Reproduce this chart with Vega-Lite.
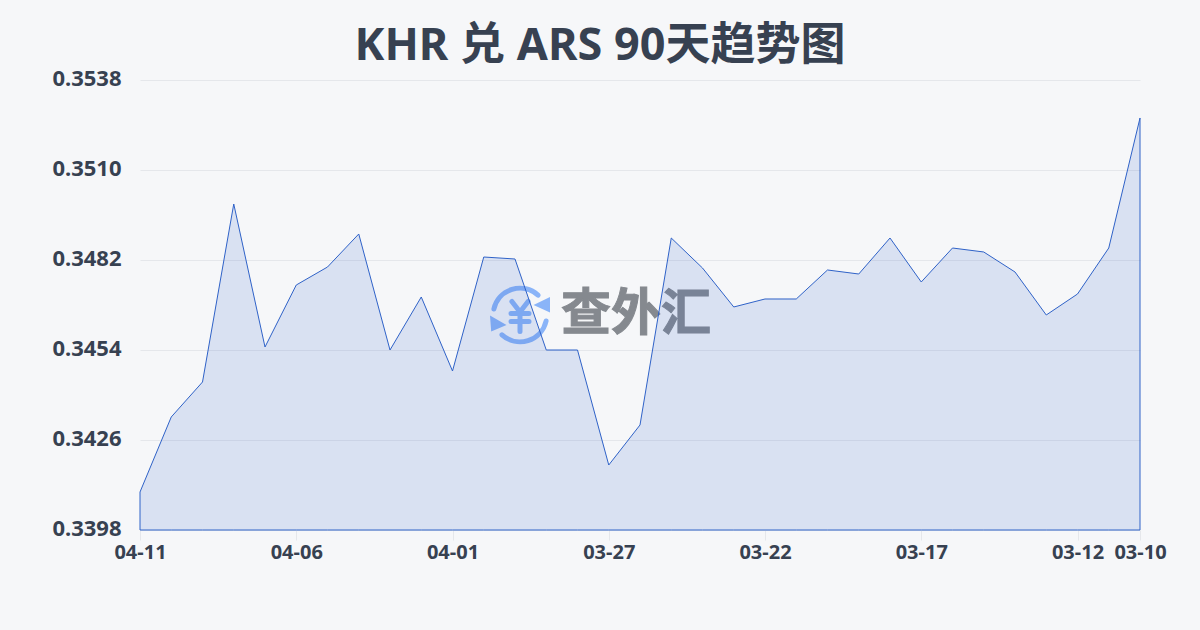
{"$schema":"https://vega.github.io/schema/vega-lite/v6.json","width":1000,"height":450,"autosize":"none","padding":{"left":140,"top":80,"right":60,"bottom":100},"background":"#f6f7f9","config":{"view":{"stroke":null},"font":"Noto Sans"},"title":{"text":"KHR 兑 ARS 90天趋势图","font":"Noto Sans, Noto Sans CJK SC","fontSize":45,"fontWeight":"bold","color":"#374151","anchor":"middle","dx":-40,"offset":-47,"baseline":"bottom"},"datasets":{"rates":[{"date":"04-11","rate":0.340982},{"date":"04-10","rate":0.343316},{"date":"04-09","rate":0.344404},{"date":"04-08","rate":0.349942},{"date":"04-07","rate":0.345493},{"date":"04-06","rate":0.347422},{"date":"04-05","rate":0.347982},{"date":"04-04","rate":0.349009},{"date":"04-03","rate":0.3454},{"date":"04-02","rate":0.347049},{"date":"04-01","rate":0.344747},{"date":"03-31","rate":0.348293},{"date":"03-30","rate":0.348231},{"date":"03-29","rate":0.3454},{"date":"03-28","rate":0.3454},{"date":"03-27","rate":0.341822},{"date":"03-26","rate":0.343067},{"date":"03-25","rate":0.348884},{"date":"03-24","rate":0.347951},{"date":"03-23","rate":0.346738},{"date":"03-22","rate":0.346987},{"date":"03-21","rate":0.346987},{"date":"03-20","rate":0.347889},{"date":"03-19","rate":0.347764},{"date":"03-18","rate":0.348884},{"date":"03-17","rate":0.347516},{"date":"03-16","rate":0.348573},{"date":"03-15","rate":0.348449},{"date":"03-14","rate":0.347827},{"date":"03-13","rate":0.346489},{"date":"03-12","rate":0.347142},{"date":"03-11","rate":0.348573},{"date":"03-10","rate":0.352618}],"logo":[{"date":"03-30","rate":0.346489}],"brand":[{"date":"03-26","rate":0.346489,"label":"查外汇"}]},"encoding":{"x":{"field":"date","type":"ordinal","title":null,"scale":{"type":"point","padding":0,"domain":["04-11","04-10","04-09","04-08","04-07","04-06","04-05","04-04","04-03","04-02","04-01","03-31","03-30","03-29","03-28","03-27","03-26","03-25","03-24","03-23","03-22","03-21","03-20","03-19","03-18","03-17","03-16","03-15","03-14","03-13","03-12","03-11","03-10"]},"axis":{"values":["04-11","04-06","04-01","03-27","03-22","03-17","03-12","03-10"],"labelAngle":0,"labelFontSize":20,"labelFontWeight":"bold","labelColor":"#374151","labelFont":"Noto Sans","labelPadding":2,"labelOverlap":false,"domain":false,"grid":false,"ticks":true,"tickColor":"#e5e7eb","tickSize":10}},"y":{"field":"rate","type":"quantitative","title":null,"scale":{"domain":[0.3398,0.3538],"zero":false,"nice":false},"axis":{"values":[0.3398,0.3426,0.3454,0.3482,0.351,0.3538],"format":".4f","labelFontSize":22,"labelFontWeight":"bold","labelColor":"#374151","labelFont":"Noto Sans","labelPadding":19,"labelOffset":-2,"domain":false,"ticks":false,"grid":true,"gridColor":"#e5e7eb","gridWidth":1}}},"layer":[{"data":{"name":"logo"},"mark":{"type":"point","filled":false,"xOffset":5,"size":3600,"stroke":"#8ab4f8","strokeWidth":5,"opacity":1,"strokeCap":"round","strokeJoin":"round","shape":"M-0.87 -0.2 A0.89 0.89 0 0 1 0.6 -0.66 M0.87 0.2 A0.89 0.89 0 0 1 -0.6 0.66 M-0.27 -0.45 L0 -0.1 L0.27 -0.45 M-0.3 -0.05 L0.3 -0.05 M-0.3 0.22 L0.3 0.22 M0 -0.1 L0 0.55"}},{"data":{"name":"logo"},"mark":{"type":"point","filled":true,"xOffset":5,"size":3600,"fill":"#8ab4f8","opacity":1,"shape":"M0.45 -0.33 L1 -0.6 L1 -0.08 Z M-0.45 0.33 L-1 0.02 L-0.96 0.55 Z"}},{"data":{"name":"brand"},"mark":{"type":"text","font":"Noto Sans CJK SC","fontSize":50,"fontWeight":"bold","fill":"#85898f","stroke":"#85898f","strokeWidth":1,"dx":-4,"align":"center","baseline":"middle"},"encoding":{"text":{"field":"label"}}},{"data":{"name":"rates"},"mark":{"type":"area","fill":"#3366cc","fillOpacity":0.15,"stroke":"#2f62c8","strokeWidth":1,"interpolate":"linear"},"encoding":{"y2":{"datum":0.3398}}}]}
